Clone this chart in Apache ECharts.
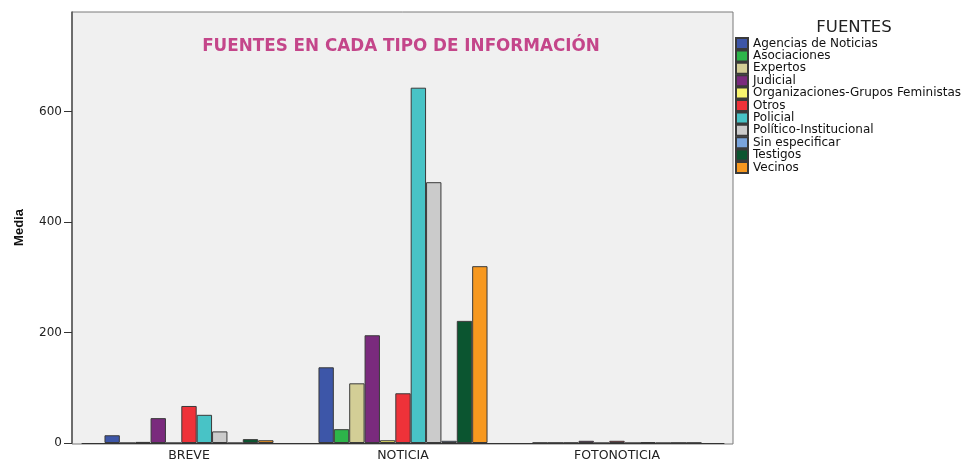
<!DOCTYPE html>
<html>
<head>
<meta charset="utf-8">
<script src="https://cdn.jsdelivr.net/npm/echarts@6/dist/echarts.min.js"></script>
<style>
  html, body { margin: 0; padding: 0; background: #fff; }
  #chart { width: 966px; height: 462px; }
</style>
</head>
<body>
<div id="chart"></div>
<script>
var categories = ['BREVE', 'NOTICIA', 'FOTONOTICIA'];
var fuentes = ['Agencias de Noticias', 'Asociaciones', 'Expertos', 'Judicial',
    'Organizaciones-Grupos Feministas', 'Otros', 'Policial', 'Político-Institucional',
    'Sin especificar', 'Testigos', 'Vecinos'];
var colores = ['#3D56A8', '#2DB54A', '#D3CE96', '#7A2A7D', '#F8F46E', '#EE3239',
    '#48C3C6', '#CBCBCB', '#79A4DC', '#0B5530', '#F7981F'];
// media por fuente: [BREVE, NOTICIA, FOTONOTICIA]
var agencias = [14, 137, 0.5];
var asociaciones = [0, 25, 0.5];
var expertos = [2, 108, 0.5];
var judicial = [45, 195, 4];
var organizaciones = [0, 5, 0];
var otros = [67, 90, 4];
var policial = [51, 643, 0];
var politico = [21, 472, 1.5];
var sinEspecificar = [0, 4, 0];
var testigos = [7, 221, 0.5];
var vecinos = [5, 320, 0.5];
var valores = [agencias, asociaciones, expertos, judicial, organizaciones, otros,
    policial, politico, sinEspecificar, testigos, vecinos];
var yTicks = [0, 200, 400, 600];

var font = 'DejaVu Sans, Verdana, sans-serif';
var myChart = echarts.init(document.getElementById('chart'));

var series = fuentes.map(function (name, i) {
    return {
        name: name,
        type: 'bar',
        data: valores[i],
        barGap: '0%',
        barCategoryGap: '21%',
        itemStyle: { color: colores[i], borderColor: '#3a3a3a', borderWidth: 1 }
    };
});

var option = {
    animation: false,
    textStyle: { fontFamily: font },
    title: [
        {
            text: 'FUENTES EN CADA TIPO DE INFORMACIÓN',
            left: 396, top: 33, textAlign: 'center',
            textStyle: { color: '#C4468A', fontSize: 16.8, fontWeight: 'bold', fontFamily: font }
        },
        {
            text: 'FUENTES',
            left: 849, top: 14, textAlign: 'center',
            textStyle: { color: '#222', fontSize: 16.5, fontWeight: 'normal', fontFamily: font }
        }
    ],
    graphic: [{
        type: 'rect', z: -10,
        shape: { x: 72, y: 12, width: 661, height: 432 },
        style: { fill: '#F0F0F0', stroke: '#7a7a7a', lineWidth: 1 }
    }],
    legend: {
        orient: 'vertical', left: 730, top: 32,
        icon: 'rect',
        itemWidth: 12, itemHeight: 11, itemGap: -0.6,
        textStyle: { fontSize: 12, lineHeight: 12, color: '#111', fontFamily: font },
        data: fuentes
    },
    grid: { left: 82, right: 242, top: 12, bottom: 18 },
    xAxis: {
        type: 'category',
        data: categories,
        axisLine: { lineStyle: { color: '#333' } },
        axisTick: { alignWithLabel: true, length: 5, lineStyle: { color: '#333' } },
        axisLabel: { color: '#222', fontSize: 12.5, margin: 6 }
    },
    yAxis: {
        type: 'value',
        min: 0, max: 780, interval: 200,
        offset: 10,
        name: 'Media', nameLocation: 'middle', nameGap: 46, nameRotate: 90,
        nameTextStyle: { fontSize: 13, fontWeight: 'bold', color: '#111', fontFamily: 'Liberation Sans, Arial, sans-serif' },
        axisLine: { show: true, lineStyle: { color: '#555', width: 1.5 } },
        axisTick: { show: true, length: 8, customValues: yTicks, lineStyle: { color: '#333' } },
        axisLabel: { color: '#222', fontSize: 12, margin: 10, customValues: yTicks },
        splitLine: { show: false }
    },
    series: series
};
myChart.setOption(option);
</script>
</body>
</html>
